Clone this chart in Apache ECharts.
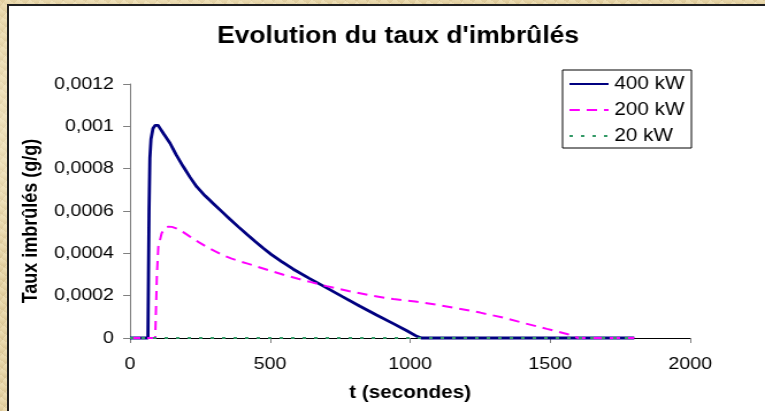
<!DOCTYPE html>
<html>
<head>
<meta charset="utf-8">
<script src="https://cdn.jsdelivr.net/npm/echarts@6/dist/echarts.min.js"></script>
<style>
  html, body { margin: 0; padding: 0; width: 765px; height: 411px; overflow: hidden; }
  body {
    background-color: #e6d4a6;
    background-image:
      radial-gradient(ellipse at 20% 30%, rgba(255,248,225,0.55) 0%, rgba(255,248,225,0) 40%),
      radial-gradient(ellipse at 80% 70%, rgba(200,175,120,0.35) 0%, rgba(200,175,120,0) 45%),
      repeating-linear-gradient(35deg, rgba(190,165,110,0.18) 0px, rgba(190,165,110,0) 3px, rgba(255,245,215,0.2) 6px),
      repeating-linear-gradient(-50deg, rgba(180,150,95,0.15) 0px, rgba(180,150,95,0) 4px, rgba(250,240,210,0.18) 9px);
    position: relative;
  }
  #panel { position: absolute; left: 7px; top: 4px; width: 780px; height: 420px; background: #fff;
           border-left: 2px solid #1e1e1e; border-top: 2px solid #1e1e1e; }
  #chart { position: absolute; left: 0; top: 0; width: 665px; height: 411px;
           transform: scaleX(1.1504); transform-origin: 0 0; }
</style>
</head>
<body>
<div id="panel"></div>
<div id="chart"></div>
<script>
// ---- data ----
const titleText = "Evolution du taux d'imbrûlés";
const xAxisName = "t (secondes)";
const yAxisName = "Taux imbrûlés (g/g)";
const seriesNames = ["400 kW", "200 kW", "20 kW"];
const xTickLabels = ["0", "500", "1000", "1500", "2000"];
const yTickLabels = ["0", "0,0002", "0,0004", "0,0006", "0,0008", "0,001", "0,0012"];

const t400 = [0, 64, 66, 68, 71, 75, 82, 90, 95, 100, 105, 120, 143, 165, 190, 214, 238, 268, 298, 328, 357, 387, 417, 447, 476, 505, 540, 583, 640, 702, 760, 821, 880, 940, 990, 1024, 1040, 1100, 1200, 1300, 1400, 1500, 1600, 1700, 1800];
const v400 = [0, 0, 0.0003, 0.0006, 0.00085, 0.00094, 0.00099, 0.001005, 0.00101, 0.001005, 0.000995, 0.000965, 0.00092, 0.000865, 0.00081, 0.00076, 0.000715, 0.000672, 0.000634, 0.000597, 0.000561, 0.000525, 0.00049, 0.000456, 0.000424, 0.000394, 0.000362, 0.000325, 0.000282, 0.000237, 0.000194, 0.00015, 0.000109, 0.000068, 0.000033, 0.000008, 0, 0, 0, 0, 0, 0, 0, 0, 0];

const t200 = [0, 90, 92, 96, 101, 113, 125, 137, 150, 167, 190, 214, 245, 274, 303, 333, 363, 393, 423, 452, 500, 548, 600, 643, 702, 780, 863, 940, 1018, 1095, 1173, 1250, 1333, 1411, 1488, 1560, 1600, 1700, 1800];
const v200 = [0, 0, 0.0001, 0.0003, 0.00043, 0.000495, 0.00052, 0.000526, 0.000525, 0.000517, 0.0005, 0.000479, 0.000453, 0.00043, 0.00041, 0.00039, 0.000375, 0.000362, 0.00035, 0.000338, 0.000318, 0.000299, 0.00028, 0.000265, 0.000245, 0.000222, 0.0002, 0.000184, 0.000172, 0.000157, 0.000139, 0.00012, 0.000096, 0.000069, 0.000043, 0.000019, 0, 0, 0];

const t20 = [0, 1800];
const v20 = [0, 0];

const colors = ["#000080", "#ff00ff", "#339966"];

function pairs(ts, vs) { return ts.map((t, i) => [t, vs[i]]); }

const FONT = "'Liberation Sans', Arial, sans-serif";
const chart = echarts.init(document.getElementById('chart'), null, { renderer: 'canvas' });

chart.setOption({
  animation: false,
  textStyle: { fontFamily: FONT },
  title: {
    text: titleText,
    left: 341,
    textAlign: 'center',
    top: 20,
    textStyle: { fontSize: 23, fontWeight: 'bold', color: '#000', fontFamily: FONT }
  },
  legend: {
    orient: 'vertical',
    left: 489,
    top: 70,
    padding: [5, 6, 3, 5],
    itemGap: 8,
    itemWidth: 34,
    itemHeight: 14,
    borderColor: '#000',
    borderWidth: 1,
    backgroundColor: '#fff',
    itemStyle: { opacity: 0, borderWidth: 0 },
    textStyle: { fontSize: 18, color: '#000', fontFamily: FONT },
    data: seriesNames
  },
  grid: { left: 113, right: 65, top: 84, bottom: 73, containLabel: false },
  xAxis: {
    type: 'value',
    min: 0, max: 2000, interval: 500,
    name: xAxisName,
    nameLocation: 'middle',
    nameGap: 46,
    nameTextStyle: { fontSize: 18, fontWeight: 'bold', color: '#000', fontFamily: FONT },
    axisLine: { show: true, lineStyle: { color: '#000', width: 1 } },
    axisTick: { show: true, length: 5, lineStyle: { color: '#808080' } },
    splitLine: { show: false },
    axisLabel: {
      fontSize: 17, color: '#000', margin: 18, fontFamily: FONT,
      formatter: (v) => xTickLabels[Math.round(v / 500)]
    }
  },
  yAxis: {
    type: 'value',
    min: 0, max: 0.0012, interval: 0.0002,
    name: yAxisName,
    nameLocation: 'middle',
    nameGap: 68,
    nameRotate: 90,
    nameTextStyle: { fontSize: 18, fontWeight: 'bold', color: '#000', fontFamily: FONT, padding: [0, 20, 0, 0] },
    axisLine: { show: true, lineStyle: { color: '#808080', width: 1 } },
    axisTick: { show: true, length: 6, lineStyle: { color: '#808080' } },
    splitLine: { show: false },
    axisLabel: {
      fontSize: 17, color: '#000', margin: 14, fontFamily: FONT,
      formatter: (v) => yTickLabels[Math.round(v / 0.0002)]
    }
  },
  series: [
    {
      name: seriesNames[0], type: 'line', data: pairs(t400, v400),
      showSymbol: false, symbol: 'none', clip: false, z: 2,
      lineStyle: { color: colors[0], width: 2.8, type: 'solid' },
      itemStyle: { color: colors[0] }
    },
    {
      name: seriesNames[1], type: 'line', data: pairs(t200, v200),
      showSymbol: false, symbol: 'none', clip: false, z: 3,
      lineStyle: { color: colors[1], width: 2, type: [9, 6] },
      itemStyle: { color: colors[1] }
    },
    {
      name: seriesNames[2], type: 'line', data: pairs(t20, v20),
      showSymbol: false, symbol: 'none', clip: false, z: 4,
      lineStyle: { color: colors[2], width: 2.2, type: [3, 7] },
      itemStyle: { color: colors[2] }
    }
  ]
});
</script>
</body>
</html>
